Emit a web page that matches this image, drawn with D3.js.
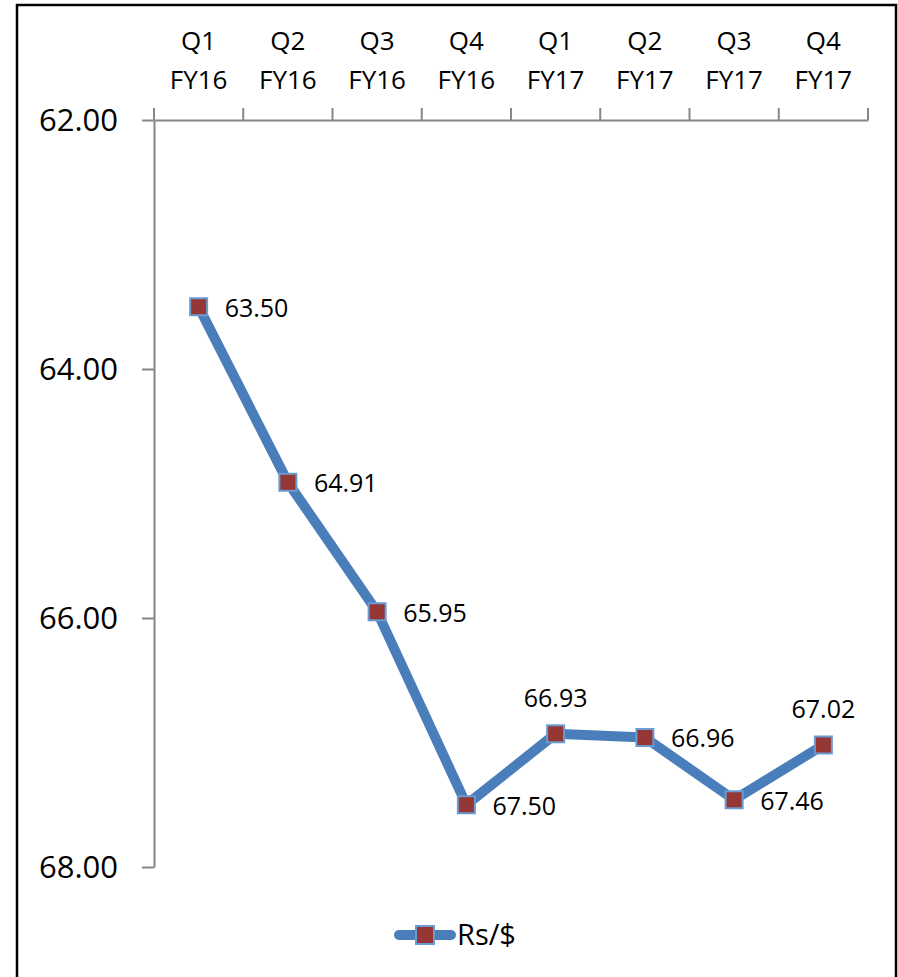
<!DOCTYPE html>
<html>
<head>
<meta charset="utf-8">
<script src="https://cdn.jsdelivr.net/npm/d3@7"></script>
<style>
  html, body { margin: 0; padding: 0; background: #fff; }
  svg { display: block; }
  text { font-family: "Open Sans", "Noto Sans", sans-serif; fill: #000; }
</style>
</head>
<body>
<svg id="chart" width="898" height="977"></svg>
<script>
// Quarterly rupee / dollar rate
const quarters = ["Q1", "Q2", "Q3", "Q4", "Q1", "Q2", "Q3", "Q4"];
const fiscalYears = ["FY16", "FY16", "FY16", "FY16", "FY17", "FY17", "FY17", "FY17"];
const rates = [63.50, 64.91, 65.95, 67.50, 66.93, 66.96, 67.46, 67.02];
const labelAbove = [false, false, false, false, true, false, false, true];
const yTicks = [62, 64, 66, 68];
const seriesName = "Rs/$";

const svg = d3.select("#chart");
const plot = { left: 154, right: 868, top: 120, bottom: 867 };
const axisColor = "#868686";
const lineColor = "#4A7EBB";
const markerFill = "#953735";
const markerStroke = "#6C9BD2";

// outer frame
svg.append("rect")
  .attr("x", 17).attr("y", 5)
  .attr("width", 879).attr("height", 990)
  .attr("fill", "#fff").attr("stroke", "#000").attr("stroke-width", 2.5);

const idx = d3.range(rates.length);
const x = d3.scaleBand().domain(idx).range([plot.left, plot.right]);
// reversed value axis: 62 at top, 68 at bottom
const y = d3.scaleLinear().domain([62, 68]).range([plot.top, plot.bottom]);

// value axis (left)
const yAxis = d3.axisLeft(y).tickValues(yTicks).tickSize(12).tickSizeOuter(0)
  .tickFormat(d3.format(".2f")).tickPadding(24);
const gy = svg.append("g").attr("transform", `translate(${plot.left},0)`).call(yAxis);
gy.select(".domain").attr("stroke", axisColor).attr("stroke-width", 2);
gy.selectAll(".tick line").attr("stroke", axisColor).attr("stroke-width", 2);
gy.selectAll(".tick text").style("font-size", "31px").attr("fill", "#000")
  .attr("dy", "0.35em");

// category axis across the top
const xAxis = d3.axisTop(x).tickSize(0).tickFormat(() => "");
const gx = svg.append("g").attr("transform", `translate(0,${plot.top})`).call(xAxis);
gx.select(".domain").attr("stroke", axisColor).attr("stroke-width", 2);
// boundary ticks between categories
const bounds = idx.map(i => x(i)).concat([plot.right]);
gx.selectAll(".bound").data(bounds).enter().append("line")
  .attr("class", "bound")
  .attr("x1", d => d).attr("x2", d => d)
  .attr("y1", 0).attr("y2", -12)
  .attr("stroke", axisColor).attr("stroke-width", 2);
// two-line category labels
const cat = gx.selectAll(".cat").data(idx).enter().append("text")
  .attr("class", "cat")
  .attr("text-anchor", "middle")
  .style("font-size", "26px");
cat.append("tspan").attr("x", i => x(i) + x.bandwidth() / 2).attr("y", -70)
  .text(i => quarters[i]);
cat.append("tspan").attr("x", i => x(i) + x.bandwidth() / 2).attr("y", -31)
  .text(i => fiscalYears[i]);

const cx = i => x(i) + x.bandwidth() / 2;

// series line
const line = d3.line().x(i => cx(i)).y(i => y(rates[i]));
svg.append("path").datum(idx)
  .attr("d", line)
  .attr("fill", "none")
  .attr("stroke", lineColor)
  .attr("stroke-width", 10)
  .attr("stroke-linejoin", "round");

// square markers
const ms = 17;
svg.selectAll(".marker").data(idx).enter().append("rect")
  .attr("class", "marker")
  .attr("x", i => cx(i) - ms / 2).attr("y", i => y(rates[i]) - ms / 2)
  .attr("width", ms).attr("height", ms)
  .attr("fill", markerFill)
  .attr("stroke", markerStroke).attr("stroke-width", 2);

// data labels
svg.selectAll(".dlabel").data(idx).enter().append("text")
  .attr("class", "dlabel")
  .style("font-size", "25px")
  .attr("text-anchor", i => labelAbove[i] ? "middle" : "start")
  .attr("x", i => labelAbove[i] ? cx(i) : cx(i) + 26)
  .attr("y", i => labelAbove[i] ? y(rates[i]) - 36 : y(rates[i]) + 1)
  .attr("dy", "0.35em")
  .text(i => rates[i].toFixed(2));

// legend
const lg = svg.append("g").attr("transform", "translate(0,935)");
lg.append("line").attr("x1", 399).attr("x2", 451).attr("y1", 0).attr("y2", 0)
  .attr("stroke", lineColor).attr("stroke-width", 10).attr("stroke-linecap", "round");
lg.append("rect").attr("x", 416).attr("y", -9).attr("width", 18).attr("height", 18)
  .attr("fill", markerFill).attr("stroke", markerStroke).attr("stroke-width", 2);
lg.append("text").attr("x", 457).attr("y", 0).attr("dy", "0.35em")
  .style("font-size", "29px").text(seriesName);
</script>
</body>
</html>
